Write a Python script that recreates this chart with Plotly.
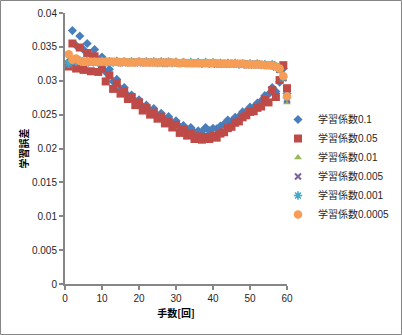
import plotly.graph_objects as go

# 手数 (move number) 1..60
moves = list(range(1, 61))

# learning error per move for each learning rate
err_01 = [.0328, .0374, .0352, .0366, .0346, .0355, .0338, .0346, .0327, .0335,
          .0313, .0317, .0299, .0302, .0288, .0290, .0278, .0279, .0270, .0272,
          .0262, .0264, .0256, .0259, .0249, .0252, .0244, .0247, .0238, .0241,
          .0232, .0234, .0228, .0231, .0224, .0226, .0225, .0231, .0226, .0230,
          .0229, .0233, .0236, .0242, .0240, .0246, .0247, .0254, .0255, .0261,
          .0261, .0267, .0270, .0278, .0280, .0290, .0284, .0298, .0318, .0281]

err_005 = [.0321, .0355, .0318, .0349, .0316, .0341, .0314, .0336, .0313, .0318,
           .0299, .0308, .0288, .0296, .0281, .0284, .0273, .0276, .0264, .0268,
           .0256, .0260, .0250, .0253, .0244, .0247, .0237, .0240, .0231, .0235,
           .0223, .0228, .0219, .0222, .0214, .0218, .0213, .0217, .0214, .0219,
           .0216, .0222, .0224, .0230, .0232, .0238, .0240, .0246, .0249, .0254,
           .0255, .0260, .0262, .0272, .0268, .0286, .0276, .0301, .0323, .0289]

err_001 = [.0322, .0331, .0327, .0331, .0326, .0331, .0327, .0330, .0326, .0331,
           .0326, .0330, .0326, .0331, .0326, .0330, .0326, .0330, .0325, .0330,
           .0326, .0330, .0325, .0330, .0325, .0330, .0325, .0329, .0325, .0330,
           .0325, .0329, .0325, .0329, .0324, .0329, .0325, .0329, .0324, .0329,
           .0324, .0328, .0324, .0328, .0323, .0328, .0323, .0327, .0323, .0327,
           .0323, .0327, .0322, .0326, .0322, .0325, .0319, .0314, .0302, .0268]

err_0005 = [.0324, .0329, .0327, .0329, .0327, .0329, .0326, .0329, .0327, .0328,
            .0326, .0329, .0327, .0328, .0326, .0328, .0326, .0328, .0326, .0328,
            .0326, .0328, .0326, .0328, .0326, .0328, .0325, .0328, .0326, .0327,
            .0325, .0327, .0325, .0327, .0325, .0327, .0325, .0327, .0325, .0327,
            .0324, .0326, .0324, .0326, .0324, .0326, .0324, .0326, .0323, .0325,
            .0323, .0325, .0323, .0324, .0322, .0324, .0320, .0316, .0304, .0272]

err_0001 = [.0326, .0330, .0328, .0330, .0328, .0329, .0328, .0329, .0327, .0329,
            .0327, .0329, .0327, .0329, .0327, .0328, .0327, .0328, .0327, .0328,
            .0327, .0328, .0327, .0328, .0326, .0328, .0326, .0328, .0326, .0327,
            .0326, .0327, .0326, .0327, .0326, .0327, .0325, .0327, .0325, .0326,
            .0325, .0326, .0325, .0326, .0325, .0326, .0324, .0325, .0324, .0325,
            .0324, .0325, .0323, .0324, .0323, .0324, .0321, .0317, .0305, .0275]

err_00005 = [.0339, .0331, .0333, .0329, .0328, .0328, .0328, .0328, .0328, .0328,
             .0328, .0328, .0328, .0328, .0327, .0328, .0327, .0327, .0327, .0328,
             .0327, .0327, .0327, .0327, .0327, .0327, .0327, .0327, .0327, .0327,
             .0326, .0327, .0326, .0326, .0326, .0326, .0326, .0326, .0326, .0326,
             .0326, .0325, .0325, .0325, .0325, .0325, .0325, .0325, .0324, .0324,
             .0324, .0324, .0324, .0323, .0323, .0322, .0321, .0318, .0307, .0277]

series_names = ["学習係数0.1", "学習係数0.05", "学習係数0.01",
                "学習係数0.005", "学習係数0.001", "学習係数0.0005"]
series_values = [err_01, err_005, err_001, err_0005, err_0001, err_00005]

y_ticks = [0, 0.005, 0.01, 0.015, 0.02, 0.025, 0.03, 0.035, 0.04]
y_tick_text = ["0", "0.005", "0.01", "0.015", "0.02", "0.025", "0.03", "0.035", "0.04"]
x_ticks = [0, 10, 20, 30, 40, 50, 60]

styles = [
    dict(symbol="diamond", size=7, color="#4A7EBB"),
    dict(symbol="square", size=8, color="#BE4B48"),
    dict(symbol="triangle-up", size=7, color="#98B954"),
    dict(symbol="x-thin-open", size=6, color="#7D60A0", line=dict(width=2, color="#7D60A0")),
    dict(symbol="asterisk-open", size=7, color="#46AAC5", line=dict(width=1.6, color="#46AAC5")),
    dict(symbol="circle", size=8.5, color="#F59D56"),
]

fig = go.Figure()
for i, (name, vals, st) in enumerate(zip(series_names, series_values, styles)):
    marker = dict(st)
    if "line" not in marker:
        marker["line"] = dict(width=0)
    fig.add_trace(go.Scatter(x=moves, y=vals, mode="markers", name=name,
                             marker=marker, legendgroup=f"g{i}",
                             cliponaxis=False))

W, H = 402, 335
L, R, T, B = 65, 115, 13, 51
pw, ph = W - L - R, H - T - B
axis_gray = "#868686"
text_col = "#262626"

fig.update_layout(
    width=W, height=H,
    margin=dict(l=L, r=R, t=T, b=B, autoexpand=False),
    paper_bgcolor="white", plot_bgcolor="white",
    font=dict(family="Liberation Sans, Noto Sans CJK JP", size=10, color=text_col),
    showlegend=True,
    legend=dict(x=(298 - 20 - L) / pw, xanchor="left",
                y=1 - (105 - T) / ph, yanchor="top",
                font=dict(family="Liberation Sans, Noto Sans CJK JP", size=10, color=text_col),
                itemwidth=30, tracegroupgap=0, bgcolor="rgba(0,0,0,0)"),
    xaxis=dict(range=[0, 60], tickvals=x_ticks, ticks="outside", ticklen=4,
               tickwidth=1.5, tickcolor=axis_gray, showline=True, linecolor=axis_gray,
               linewidth=2, showgrid=False, zeroline=False,
               tickfont=dict(size=10, color=text_col),
               title=dict(text="<b>手数[回]</b>", standoff=7,
                          font=dict(family="Noto Sans CJK JP", size=10, color="#000000"))),
    yaxis=dict(range=[0, 0.04], tickvals=y_ticks, ticktext=y_tick_text, ticks="outside",
               ticklen=4, tickwidth=1.5, tickcolor=axis_gray, showline=True,
               linecolor=axis_gray, linewidth=2, showgrid=False, zeroline=False,
               tickfont=dict(size=10, color=text_col),
               title=dict(text="<b>学習誤差</b>", standoff=1,
                          font=dict(family="Noto Sans CJK JP", size=10, color="#000000"))),
)

# outer chart border
fig.add_shape(type="rect", xref="paper", yref="paper",
              x0=(-L + 0.5) / pw, x1=1 + (R - 0.5) / pw,
              y0=(-B + 0.5) / ph, y1=1 + (T - 0.5) / ph,
              line=dict(color=axis_gray, width=1), layer="below")

fig.write_html("out.html")
